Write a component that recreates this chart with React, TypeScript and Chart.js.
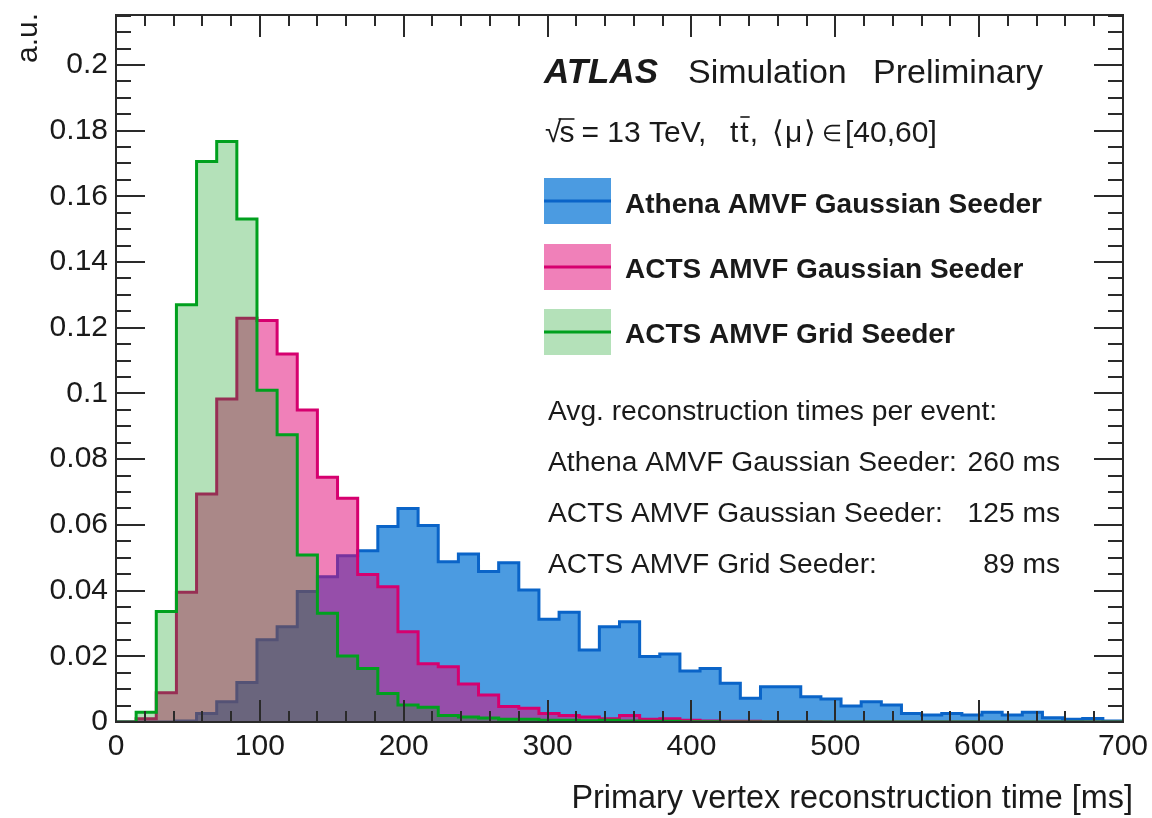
import React, { useEffect, useRef } from "react";
import { Chart, registerables } from "chart.js";

Chart.register(...registerables);

// ---------- data ----------
const BIN_WIDTH = 14; // ms
const X_MIN = 0;
const X_MAX = 700;
const Y_MIN = 0;
const Y_MAX = 0.2152;

const xMajorTicks = [0, 100, 200, 300, 400, 500, 600, 700];
const yMajorTicks = [0, 0.02, 0.04, 0.06, 0.08, 0.1, 0.12, 0.14, 0.16, 0.18, 0.2];
const X_MINOR_STEP = 20;
const Y_MINOR_STEP = 0.005;

// Athena AMVF Gaussian Seeder (50 bins of 14 ms)
const athenaGaussian = [
  0, 0, 0, 0.0003, 0.0026, 0.0062, 0.012, 0.025, 0.029, 0.0397,
  0.0442, 0.0506, 0.0521, 0.0595, 0.065, 0.0598, 0.0488, 0.0511, 0.0458, 0.0485,
  0.0402, 0.0313, 0.0334, 0.0219, 0.029, 0.0305, 0.0199, 0.0207, 0.0155, 0.0163,
  0.0118, 0.0072, 0.0107, 0.0107, 0.0077, 0.007, 0.0049, 0.0062, 0.0052, 0.0026,
  0.0021, 0.0026, 0.0021, 0.003, 0.0021, 0.003, 0.0013, 0.0008, 0.0011, 0.0003,
];
// ACTS AMVF Gaussian Seeder
const actsGaussian = [
  0, 0.001, 0.0089, 0.0395, 0.0694, 0.0983, 0.1229, 0.1222, 0.112, 0.095,
  0.0745, 0.0681, 0.0449, 0.0412, 0.0275, 0.0177, 0.0168, 0.0116, 0.0082, 0.0047,
  0.0042, 0.0026, 0.002, 0.0015, 0.001, 0.002, 0.0008, 0.001, 0.0005, 0.0003,
  0.0002, 0.0002, 0.0001, 0.0001, 0.0001, 0, 0, 0, 0, 0,
  0, 0, 0, 0, 0, 0, 0, 0, 0, 0,
];
// ACTS AMVF Grid Seeder
const actsGrid = [
  0, 0.003, 0.0336, 0.127, 0.1706, 0.1767, 0.1531, 0.101, 0.0874, 0.0508,
  0.0331, 0.0201, 0.0163, 0.0087, 0.0052, 0.0045, 0.002, 0.0015, 0.0012, 0.0008,
  0.0008, 0.0005, 0.0005, 0.0004, 0.0005, 0.0003, 0.0002, 0.0002, 0.0001, 0.0001,
  0, 0, 0, 0, 0, 0, 0, 0, 0, 0,
  0, 0, 0, 0, 0, 0, 0, 0, 0, 0,
];

const seriesNames = [
  "Athena AMVF Gaussian Seeder",
  "ACTS AMVF Gaussian Seeder",
  "ACTS AMVF Grid Seeder",
];
const timingHeader = "Avg. reconstruction times per event:";
const timingLabels = [
  "Athena AMVF Gaussian Seeder:",
  "ACTS AMVF Gaussian Seeder:",
  "ACTS AMVF Grid Seeder:",
];
const timingValues = ["260 ms", "125 ms", "89 ms"];

const xTitle = "Primary vertex reconstruction time [ms]";
const yTitle = "a.u.";

// ---------- styles ----------
const FONT = "'Liberation Sans', Arial, Helvetica, sans-serif";
const TEXT_COLOR = "#1a1a1a";
const FRAME_COLOR = "#2a2a2a";

const fills = [
  "rgb(75,155,225)",
  "rgba(225,1,115,0.5)",
  "rgba(5,155,22,0.3)",
];
const lines = ["#0a64c8", "#d6006f", "#00a01e"];

function toHistPoints(values: number[]) {
  const pts = values.map((v, i) => ({ x: X_MIN + i * BIN_WIDTH, y: v }));
  pts.push({ x: X_MIN + values.length * BIN_WIDTH, y: values[values.length - 1] });
  return pts;
}

const decorPlugin = {
  id: "rootDecor",
  afterDatasetsDraw(chart: any) {
    const ctx = chart.ctx as CanvasRenderingContext2D;
    const { left, right, top, bottom } = chart.chartArea;
    const xs = chart.scales.x;
    const ys = chart.scales.y;
    ctx.save();
    ctx.strokeStyle = FRAME_COLOR;
    ctx.lineWidth = 2;
    ctx.beginPath();
    for (let v = Y_MIN; v <= Y_MAX + 1e-9; v += Y_MINOR_STEP) {
      const y = Math.round(ys.getPixelForValue(v));
      const isMajor = yMajorTicks.some((t) => Math.abs(t - v) < 1e-6);
      const len = isMajor ? 29 : 15;
      ctx.moveTo(left, y);
      ctx.lineTo(left + len, y);
      ctx.moveTo(right, y);
      ctx.lineTo(right - len, y);
    }
    for (let v = X_MIN; v <= X_MAX + 1e-9; v += X_MINOR_STEP) {
      const x = Math.round(xs.getPixelForValue(v));
      const isMajor = xMajorTicks.some((t) => Math.abs(t - v) < 1e-6);
      const len = isMajor ? 22 : 11;
      ctx.moveTo(x, bottom);
      ctx.lineTo(x, bottom - len);
      ctx.moveTo(x, top);
      ctx.lineTo(x, top + len);
    }
    ctx.stroke();
    ctx.strokeRect(left, top, right - left, bottom - top);
    ctx.restore();
  },
  afterDraw(chart: any) {
    const ctx = chart.ctx as CanvasRenderingContext2D;
    ctx.save();
    ctx.fillStyle = TEXT_COLOR;
    ctx.textBaseline = "alphabetic";

    // axis titles
    ctx.font = `32.4px ${FONT}`;
    ctx.textAlign = "right";
    ctx.fillText(xTitle, 1133, 808);
    ctx.save();
    ctx.translate(37, 13);
    ctx.rotate(-Math.PI / 2);
    ctx.font = `30px ${FONT}`;
    ctx.textAlign = "right";
    ctx.fillText(yTitle, 0, 0);
    ctx.restore();

    // ATLAS label
    ctx.textAlign = "left";
    ctx.font = `italic bold 35px ${FONT}`;
    ctx.fillText("ATLAS", 544, 83);
    ctx.font = `34px ${FONT}`;
    ctx.fillText("Simulation", 688, 83);
    ctx.fillText("Preliminary", 873, 83);

    // energy line
    ctx.font = `30px ${FONT}`;
    const base = 142;
    const x0 = 545;
    ctx.fillText("\u221A", x0, base);
    const wRoot = ctx.measureText("\u221A").width;
    const sx = x0 + wRoot - 2;
    ctx.fillText("s", sx, base);
    const ws = ctx.measureText("s").width;
    ctx.save();
    ctx.strokeStyle = TEXT_COLOR;
    ctx.lineWidth = 1.6;
    ctx.beginPath();
    ctx.moveTo(sx - 1, base - 23);
    ctx.lineTo(sx + ws, base - 23);
    ctx.stroke();
    ctx.restore();
    ctx.fillText("= 13 TeV,", sx + ws + 7, base);
    const tx = 730;
    ctx.fillText("t", tx, base);
    const wt = ctx.measureText("t").width;
    ctx.fillText("t", tx + wt + 2, base);
    ctx.save();
    ctx.strokeStyle = TEXT_COLOR;
    ctx.lineWidth = 1.6;
    ctx.beginPath();
    ctx.moveTo(tx + wt + 2, base - 25);
    ctx.lineTo(tx + 2 * wt + 3, base - 25);
    ctx.stroke();
    ctx.restore();
    ctx.fillText(",", tx + 2 * wt + 3, base);
    ctx.fillText("\u27E8", 772, base);
    ctx.fillText("\u03BC", 785, base);
    ctx.fillText("\u27E9", 804, base);
    ctx.font = `23px ${FONT}`;
    ctx.fillText("\u2208", 822, base - 1);
    ctx.font = `30px ${FONT}`;
    ctx.fillText("[40,60]", 845, base);

    // legend
    const boxTops = [178, 244, 309];
    const textBases = [213, 278, 343];
    for (let i = 0; i < 3; i++) {
      ctx.fillStyle = "#ffffff";
      ctx.fillRect(544, boxTops[i], 67, 46);
      ctx.fillStyle = fills[i];
      ctx.fillRect(544, boxTops[i], 67, 46);
      ctx.fillStyle = lines[i];
      ctx.fillRect(544, boxTops[i] + 21.5, 67, 3);
      ctx.fillStyle = TEXT_COLOR;
      ctx.font = `bold 28px ${FONT}`;
      ctx.textAlign = "left";
      ctx.fillText(seriesNames[i], 625, textBases[i]);
    }

    // timing text
    ctx.font = `28.2px ${FONT}`;
    ctx.textAlign = "left";
    ctx.fillText(timingHeader, 548, 420);
    const tBases = [471, 522, 573];
    for (let i = 0; i < 3; i++) {
      ctx.textAlign = "left";
      ctx.fillText(timingLabels[i], 548, tBases[i]);
      ctx.textAlign = "right";
      ctx.fillText(timingValues[i], 1060, tBases[i]);
    }
    ctx.restore();
  },
};

export default function App() {
  const canvasRef = useRef<HTMLCanvasElement | null>(null);

  useEffect(() => {
    document.body.style.margin = "0";
    const canvas = canvasRef.current;
    if (!canvas) return;

    const series = [athenaGaussian, actsGaussian, actsGrid];
    const orders = [3, 2, 1];
    const datasets = series.map((vals, i) => ({
      label: seriesNames[i],
      data: toHistPoints(vals),
      stepped: "before" as const,
      borderColor: lines[i],
      backgroundColor: fills[i],
      borderWidth: 3,
      fill: "origin",
      pointRadius: 0,
      pointHoverRadius: 0,
      tension: 0,
      order: orders[i],
    }));

    const chart = new Chart(canvas, {
      type: "line",
      data: { datasets },
      options: {
        animation: false,
        responsive: false,
        devicePixelRatio: 1,
        layout: { padding: { top: 15, right: 29, left: 0, bottom: 0 } },
        plugins: {
          legend: { display: false },
          tooltip: { enabled: false },
          title: { display: false },
        },
        scales: {
          x: {
            type: "linear",
            min: X_MIN,
            max: X_MAX,
            grid: { display: false, drawTicks: false },
            border: { display: false },
            afterBuildTicks: (scale: any) => {
              scale.ticks = xMajorTicks.map((v) => ({ value: v }));
            },
            afterFit: (scale: any) => {
              scale.height = 96;
              scale.paddingLeft = 0;
              scale.paddingRight = 0;
            },
            ticks: {
              autoSkip: false,
              maxRotation: 0,
              padding: 7,
              color: TEXT_COLOR,
              font: { family: FONT, size: 30 },
              callback: (v: any) => String(v),
            },
          },
          y: {
            type: "linear",
            min: Y_MIN,
            max: Y_MAX,
            grid: { display: false, drawTicks: false },
            border: { display: false },
            afterBuildTicks: (scale: any) => {
              scale.ticks = yMajorTicks.map((v) => ({ value: v }));
            },
            afterFit: (scale: any) => {
              scale.width = 116;
              scale.paddingTop = 0;
              scale.paddingBottom = 0;
            },
            ticks: {
              autoSkip: false,
              padding: 8,
              color: TEXT_COLOR,
              font: { family: FONT, size: 30 },
              callback: (v: any) => String(Math.round(Number(v) * 1000) / 1000),
            },
          },
        },
      },
      plugins: [decorPlugin],
    } as any);

    return () => {
      chart.destroy();
    };
  }, []);

  return (
    <div style={{ width: 1152, height: 818, background: "#ffffff" }}>
      <canvas ref={canvasRef} width={1152} height={818} />
    </div>
  );
}
